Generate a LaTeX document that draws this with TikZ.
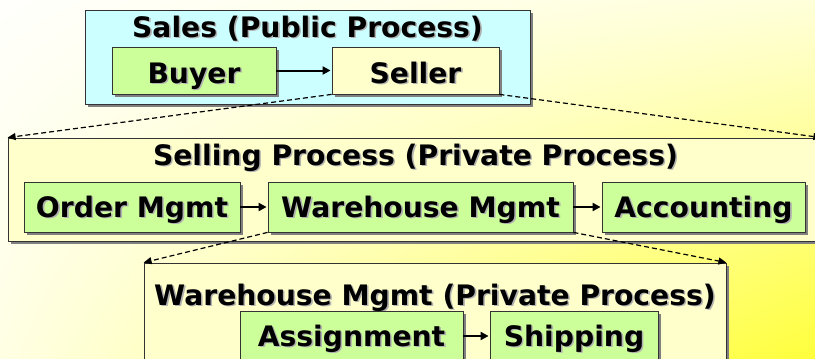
\documentclass[tikz,border=0pt]{standalone}
\usepackage{fontspec}
\setmainfont{DejaVu Sans}
\usetikzlibrary{shadows,shadings,arrows.meta}

\definecolor{salescyan}{RGB}{204,255,255}
\definecolor{stepgreen}{RGB}{204,255,153}
\definecolor{privyellow}{RGB}{255,255,204}
\definecolor{bgtopleft}{RGB}{255,255,252}
\definecolor{bgtopright}{RGB}{255,255,218}
\definecolor{bgbotleft}{RGB}{255,255,228}
\definecolor{bgbotright}{RGB}{255,255,60}

% text with a light grey offset copy behind it
\newcommand{\shtext}[1]{\makebox[0pt][l]{\hspace{1.6pt}\raisebox{-1.6pt}{\textcolor{black!30}{#1}}}#1}

\tikzset{
  procbox/.style={shape=rectangle,draw=black!80,line width=0.8pt,
    drop shadow={shadow xshift=3pt,shadow yshift=-3pt,fill=black!50,opacity=1}},
  stepbox/.style={procbox,inner sep=0pt,text height=20pt,text depth=0pt,
    font=\fontsize{28.2}{33}\selectfont\bfseries},
  titletext/.style={anchor=base,inner sep=0pt,font=\fontsize{28.2}{33}\selectfont\bfseries},
  flow/.style={-{Triangle[length=8pt,width=8pt]},line width=2pt,shorten >=1pt},
  zoomline/.style={-{Triangle[length=8pt,width=7pt]},line width=1.2pt,dash pattern=on 5pt off 3pt}
}

\begin{document}
\begin{tikzpicture}[x=1pt,y=-1pt]

\useasboundingbox (0,0) rectangle (815,359);
\clip (0,0) rectangle (815,359);
\shade[upper left=bgtopleft,upper right=bgtopright,lower left=bgbotleft,lower right=bgbotright] (0,0) rectangle (815,359);

% Public process
\node [procbox,fill=salescyan,minimum width=445pt,minimum height=94pt] at (307.5,57) (sales) {};
\node [titletext] at (307.5,37) (salestitle) {\shtext{Sales (Public Process)}};
\node [stepbox,fill=stepgreen,minimum width=164pt,minimum height=47pt,text height=25pt] at (194,70.5) (buyer) {\shtext{Buyer}};
\node [stepbox,fill=privyellow,minimum width=167pt,minimum height=47pt,text height=25pt] at (415.5,70.5) (seller) {\shtext{Seller}};

% Selling process
\node [procbox,fill=privyellow,minimum width=813pt,minimum height=103pt] at (414.5,189.5) (selling) {};
\node [titletext] at (415.5,165) (sellingtitle) {\shtext{Selling Process (Private Process)}};
\node [stepbox,fill=stepgreen,minimum width=216pt,minimum height=50pt] at (132,207) (order) {\shtext{Order Mgmt}};
\node [stepbox,fill=stepgreen,minimum width=305pt,minimum height=50pt] at (420.5,207) (whm) {\shtext{Warehouse Mgmt}};
\node [stepbox,fill=stepgreen,minimum width=203pt,minimum height=50pt] at (703.5,207) (acct) {\shtext{Accounting}};

% Warehouse process
\node [procbox,fill=privyellow,minimum width=582pt,minimum height=130pt] at (435,328) (whbox) {};
\node [titletext] at (435,305) (whtitle) {\shtext{Warehouse Mgmt (Private Process)}};
\node [stepbox,fill=stepgreen,minimum width=223pt,minimum height=50pt] at (351.5,336) (assign) {\shtext{Assignment}};
\node [stepbox,fill=stepgreen,minimum width=168pt,minimum height=50pt] at (574,336) (ship) {\shtext{Shipping}};

% flows
\draw [flow] (buyer) -- (seller);
\draw [flow] (order) -- (whm);
\draw [flow] (whm) -- (acct);
\draw [flow] (assign) -- (ship);

% zoom lines
\draw [zoomline] (seller.south west) -- (selling.north west);
\draw [zoomline] (seller.south east) -- (selling.north east);
\draw [zoomline] (whm.south west) -- (whbox.north west);
\draw [zoomline] (whm.south east) -- (whbox.north east);

\end{tikzpicture}
\end{document}
